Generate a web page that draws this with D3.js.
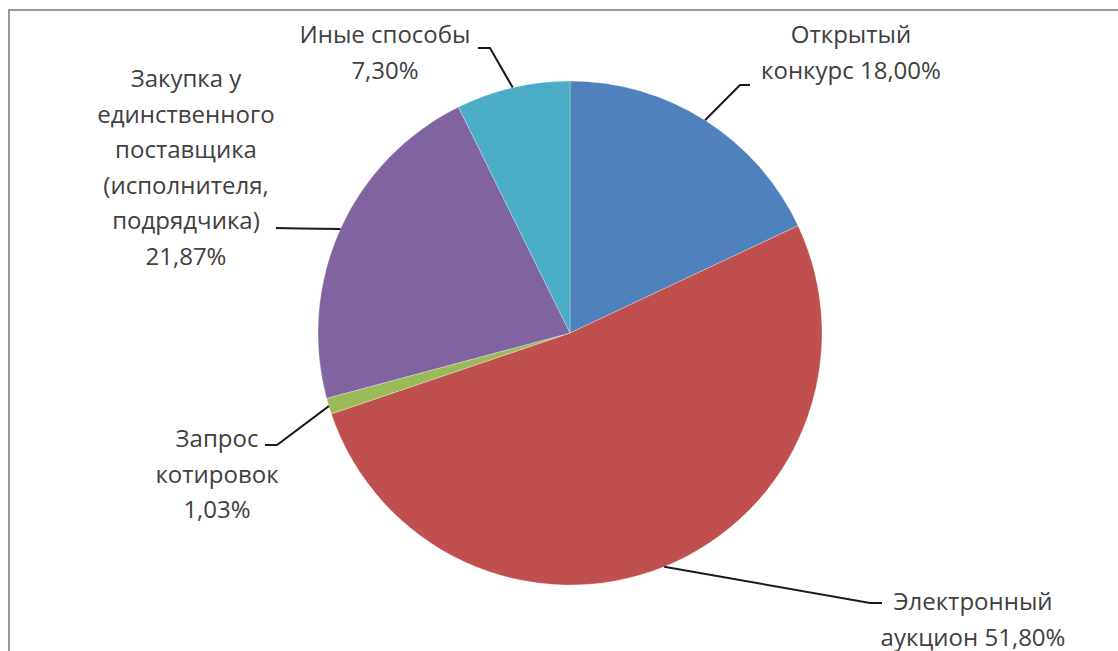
<!DOCTYPE html>
<html>
  <head>
    <meta charset="utf-8">
    <title>Способы закупок</title>
    <script src="https://d3js.org/d3.v7.min.js"></script>
    <style>
      body { margin: 0; background: #fff; }
      .label text {
        font-family: "Open Sans", sans-serif;
        font-size: 24px;
        fill: #404040;
        text-anchor: middle;
      }
      .leader {
        fill: none;
        stroke: #1a1a1a;
        stroke-width: 2px;
      }
    </style>
  </head>
  <body>
    <svg width="1118" height="651"></svg>
    <script>
      // slices, clockwise from 12 o'clock
      const names = [
        "Открытый конкурс",
        "Электронный аукцион",
        "Запрос котировок",
        "Закупка у единственного поставщика (исполнителя, подрядчика)",
        "Иные способы"
      ];
      const values = [18.00, 51.80, 1.03, 21.87, 7.30];
      const colors = ["#4f81bd", "#c0504d", "#9bbb59", "#8064a2", "#4bacc6"];
      // label text lines as printed on the chart
      const labelLines = [
        ["Открытый", "конкурс 18,00%"],
        ["Электронный", "аукцион 51,80%"],
        ["Запрос", "котировок", "1,03%"],
        ["Закупка у", "единственного", "поставщика", "(исполнителя,", "подрядчика)", "21,87%"],
        ["Иные способы", "7,30%"]
      ];

      // layout: label centre x, first baseline y, leader elbow and end
      const labelLayout = [
        {x: 851, y: 43, elbow: [740, 85], end: [750, 85]},
        {x: 973, y: 610, elbow: [870, 603], end: [882, 603]},
        {x: 217, y: 447, elbow: [277, 445], end: [265, 445]},
        {x: 186, y: 87, elbow: [300, 228.5], end: [276, 228]},
        {x: 385, y: 43, elbow: [490, 48], end: [478, 48]}
      ];
      const lineHeight = 35.5;

      const svg = d3.select("svg");
      const cx = 570, cy = 333, radius = 252;

      // chart frame (right and bottom edges fall outside the picture)
      svg.append("rect")
          .attr("x", 9)
          .attr("y", 10)
          .attr("width", 1200)
          .attr("height", 700)
          .attr("fill", "none")
          .attr("stroke", "#9a9a9a")
          .attr("stroke-width", 2);

      const data = names.map((name, i) => ({name, value: values[i], color: colors[i], lines: labelLines[i], layout: labelLayout[i]}));

      const pie = d3.pie()
          .sort(null)
          .value(d => d.value);
      const arc = d3.arc()
          .innerRadius(0)
          .outerRadius(radius);

      const arcs = pie(data);

      const g = svg.append("g")
          .attr("transform", `translate(${cx}, ${cy})`);

      g.selectAll("path")
        .data(arcs)
        .enter().append("path")
          .attr("d", arc)
          .attr("fill", d => d.data.color)
          .attr("stroke", "rgba(255,255,255,0.35)")
          .attr("stroke-width", 0.8);

      // leader lines from slice edge (mid angle) to the label
      const edgePoint = d => {
        const a = (d.startAngle + d.endAngle) / 2;
        return [cx + radius * Math.sin(a), cy - radius * Math.cos(a)];
      };

      svg.selectAll(".leader")
        .data(arcs)
        .enter().append("polyline")
          .attr("class", "leader")
          .attr("points", d => [edgePoint(d), d.data.layout.elbow, d.data.layout.end].map(p => p.join(",")).join(" "));

      const labels = svg.selectAll(".label")
        .data(arcs)
        .enter().append("g")
          .attr("class", "label");

      labels.selectAll("text")
        .data(d => d.data.lines.map((t, i) => ({t, i, layout: d.data.layout})))
        .enter().append("text")
          .attr("x", d => d.layout.x)
          .attr("y", d => d.layout.y + d.i * lineHeight)
          .text(d => d.t);
    </script>
  </body>
</html>
